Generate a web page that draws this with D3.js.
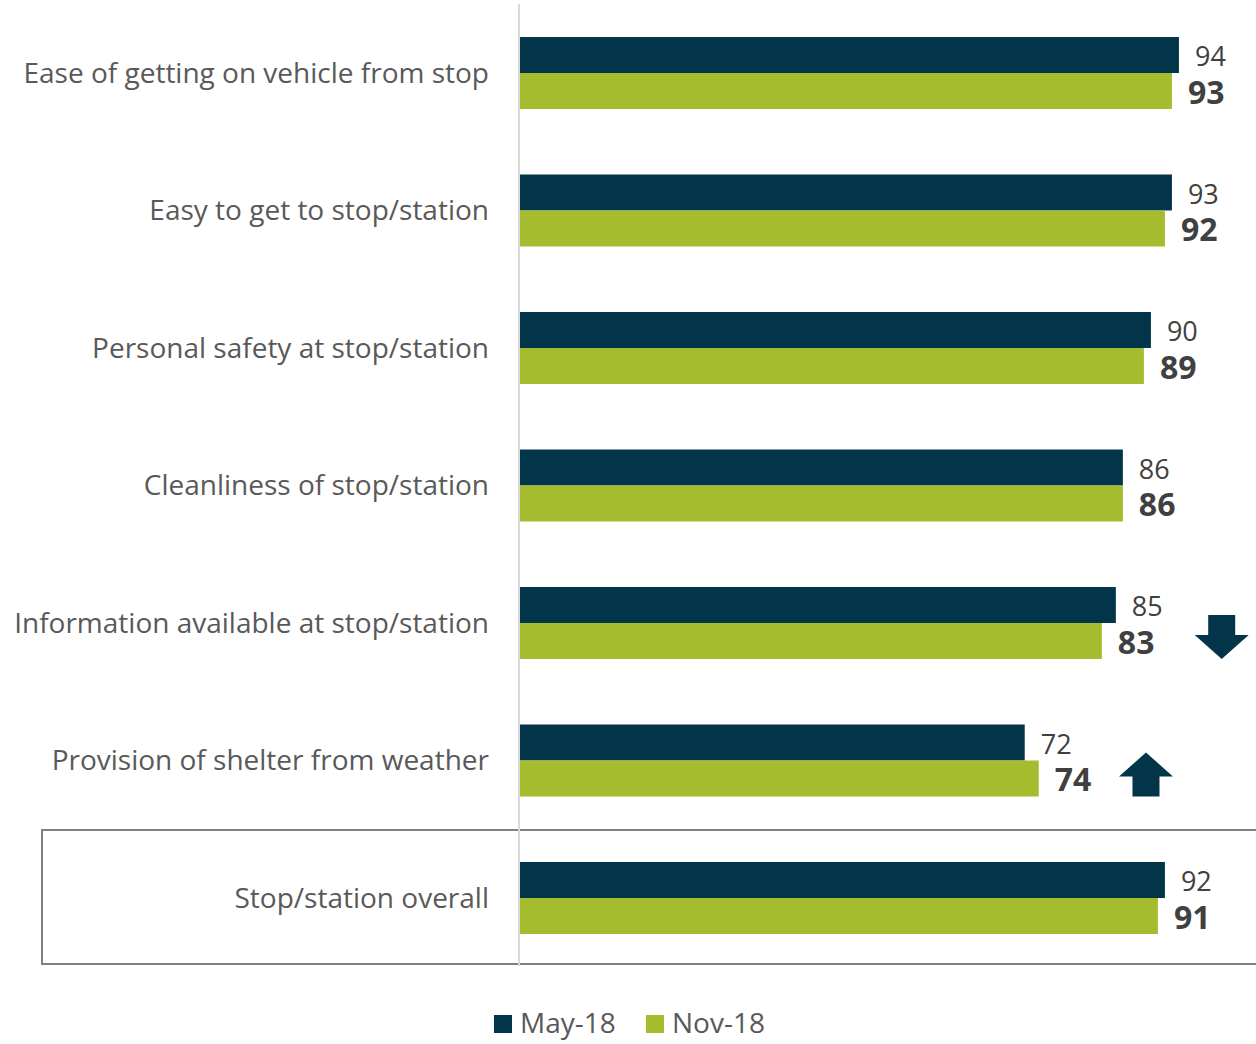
<!DOCTYPE html>
<html>
<head>
<meta charset="utf-8">
<script src="https://cdn.jsdelivr.net/npm/d3@7"></script>
<style>
  html, body { margin: 0; padding: 0; background: #ffffff; }
  svg { display: block; font-family: "Open Sans", "Noto Sans", sans-serif; }
</style>
</head>
<body>
<svg id="chart" width="1256" height="1044"></svg>
<script>
// Satisfaction with stops and stations, two survey waves
const categories = [
  "Ease of getting on vehicle from stop",
  "Easy to get to stop/station",
  "Personal safety at stop/station",
  "Cleanliness of stop/station",
  "Information available at stop/station",
  "Provision of shelter from weather",
  "Stop/station overall"
];
const seriesNames = ["May-18", "Nov-18"];
const may18 = [94, 93, 90, 86, 85, 72, 92];
const nov18 = [93, 92, 89, 86, 83, 74, 91];
// Significant change markers (direction) and where they sit on the value axis
const changeDirection = [null, null, null, null, "down", "up", null];
const changeAt = [null, null, null, null, 100.1, 89.3, null];
const highlighted = ["Stop/station overall"];

const colors = { "May-18": "#023549", "Nov-18": "#a5bc2e" };

const svg = d3.select("#chart");

const x = d3.scaleLinear().domain([0, 100]).range([520, 1221]);
const y = d3.scaleBand().domain(categories).range([37, 934]).paddingInner(0.4764).paddingOuter(0);
const sub = d3.scaleBand().domain(seriesNames).range([0, y.bandwidth()]).padding(0);

const rows = categories.map((c, i) => ({
  cat: c,
  values: [ { s: "May-18", v: may18[i] }, { s: "Nov-18", v: nov18[i] } ],
  dir: changeDirection[i],
  at: changeAt[i]
}));

// Box around the overall row
highlighted.forEach(c => {
  svg.append("rect")
    .attr("x", 42)
    .attr("y", y(c) - 32)
    .attr("width", 1260 - 42)
    .attr("height", y.bandwidth() + 62)
    .attr("fill", "none")
    .attr("stroke", "#808080")
    .attr("stroke-width", 2);
});

// Category axis line
svg.append("line")
  .attr("x1", x(0) - 1).attr("x2", x(0) - 1)
  .attr("y1", 4).attr("y2", 966)
  .attr("stroke", "#d9d9d9")
  .attr("stroke-width", 2);

const row = svg.selectAll("g.row").data(rows).join("g")
  .attr("class", "row")
  .attr("transform", d => `translate(0,${y(d.cat)})`);

// Category labels
row.append("text")
  .attr("x", 489)
  .attr("y", y.bandwidth() / 2 + 10)
  .attr("text-anchor", "end")
  .attr("font-size", 28)
  .attr("fill", "#595959")
  .text(d => d.cat);

// Bars
row.selectAll("rect.bar").data(d => d.values).join("rect")
  .attr("class", "bar")
  .attr("x", x(0))
  .attr("y", d => sub(d.s))
  .attr("width", d => x(d.v) - x(0))
  .attr("height", sub.bandwidth())
  .attr("fill", d => colors[d.s]);

// Value labels
row.selectAll("text.val").data(d => d.values).join("text")
  .attr("class", "val")
  .attr("x", d => x(d.v) + 16)
  .attr("y", d => sub(d.s) + sub.bandwidth() / 2 + (d.s === "May-18" ? 11 : 13))
  .attr("font-size", d => d.s === "May-18" ? 27 : 32)
  .attr("font-weight", d => d.s === "May-18" ? 400 : 700)
  .attr("fill", "#404040")
  .text(d => d.v);

// Change arrows
const arrowW = 54, shaftW = 27, headH = 24, totalH = 44;
function arrowPath(dir) {
  const hw = arrowW / 2, sw = shaftW / 2;
  if (dir === "down") {
    return `M${-sw},0 L${sw},0 L${sw},${totalH - headH} L${hw},${totalH - headH} L0,${totalH} L${-hw},${totalH - headH} L${-sw},${totalH - headH} Z`;
  }
  return `M0,0 L${hw},${headH} L${sw},${headH} L${sw},${totalH} L${-sw},${totalH} L${-sw},${headH} L${-hw},${headH} Z`;
}
row.filter(d => d.dir)
  .append("path")
  .attr("transform", d => `translate(${x(d.at)},${y.bandwidth() / 2 - 8})`)
  .attr("d", d => arrowPath(d.dir))
  .attr("fill", "#023549");

// Legend
const legend = svg.append("g").attr("transform", "translate(494,1015)");
const legendOffsets = [0, 152];
seriesNames.forEach((s, i) => {
  const g = legend.append("g").attr("transform", `translate(${legendOffsets[i]},0)`);
  g.append("rect").attr("width", 18).attr("height", 18).attr("fill", colors[s]);
  g.append("text")
    .attr("x", 26).attr("y", 18)
    .attr("font-size", 28)
    .attr("fill", "#595959")
    .text(s);
});
</script>
</body>
</html>
